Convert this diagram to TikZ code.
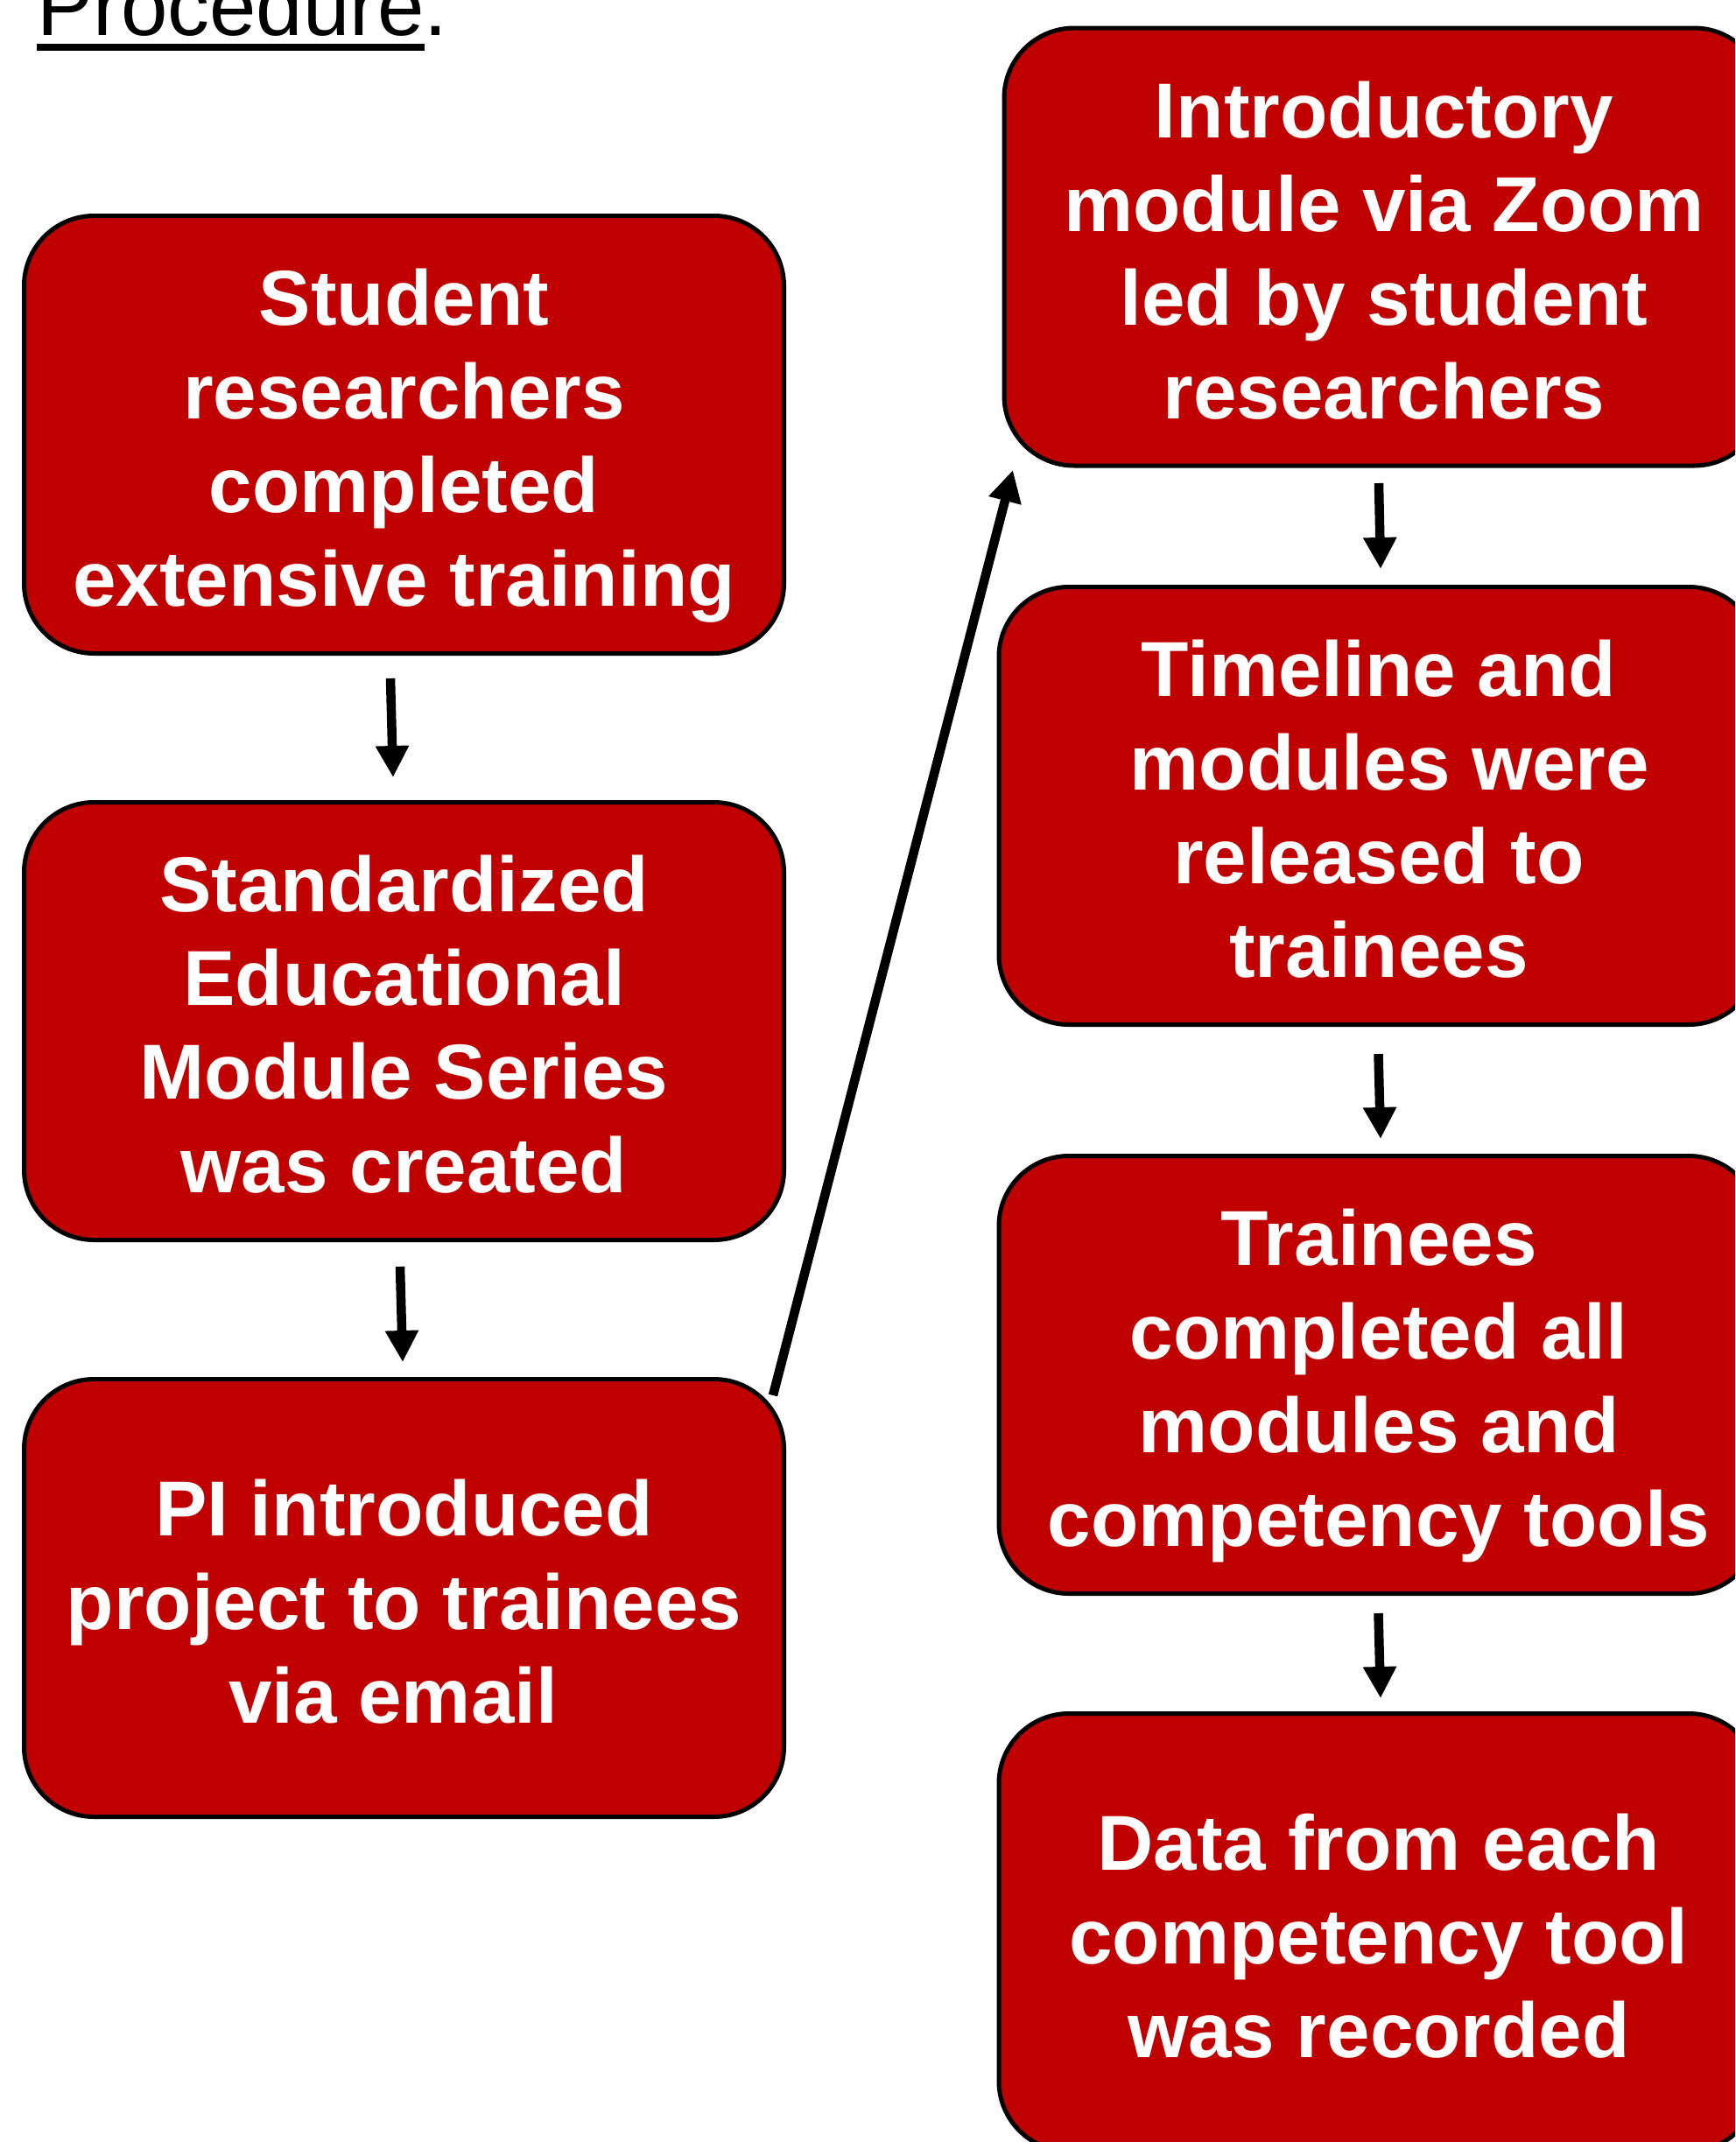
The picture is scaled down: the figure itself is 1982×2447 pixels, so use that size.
\documentclass[tikz,border=0pt]{standalone}
\usepackage{fontspec}
\setmainfont{Liberation Sans}
\usetikzlibrary{arrows.meta,calc}
\definecolor{boxred}{RGB}{192,0,0}
% fixed line box at the top and bottom of each step text, so every
% block is centred the same way whatever its ascenders and descenders
\newcommand\firstln{\rule{0pt}{45pt}}
\newcommand\lastln{\rule[-9.5pt]{0pt}{9.5pt}}
\newcommand\wordgap{\hspace*{12.4pt}}
\begin{document}
\begin{tikzpicture}[x=0.5pt,y=-0.5pt,
  stepbox/.style={draw=black, line width=2.5pt, fill=boxred,
    rounded corners=40pt, minimum width=434pt, minimum height=250pt,
    inner sep=0pt, outer sep=0pt, align=center, text=white,
    font=\bfseries\fontsize{44.5}{53.5}\selectfont},
  flow/.style={line width=5.25pt, -{Triangle[length=18pt,width=18pt]}},
  heading/.style={anchor=base west, inner sep=0pt, outer sep=0pt,
    font=\fontsize{48}{57}\selectfont}]
\useasboundingbox (0,0) rectangle (1982,2447);
\clip (0,0) rectangle (1982,2447);

% heading
\node[heading] (title) at (42,40) {Procedure.};
\fill ($(title.base west)+(0,10)$) rectangle ++(443,8);

% left column
\node[stepbox] (b1) at (461.5,496.5)
  {\firstln Student\\researchers\\completed\\extensive training\lastln};
\node[stepbox] (b2) at (461.5,1166.5)
  {\firstln Standardized\\Educational\\Module Series\\was created\lastln};
\node[stepbox] (b3) at (461.5,1825.5)
  {\firstln PI introduced\\project to trainees\\via email\wordgap\lastln};

% right column
\node[stepbox] (r1) at (1581,282)
  {\firstln Introductory\\module via Zoom\\led by student\\researchers\lastln};
\node[stepbox] (r2) at (1575,920.5)
  {\firstln Timeline and\\\wordgap modules were\\released to\\trainees\lastln};
\node[stepbox] (r3) at (1575,1570.5)
  {\firstln Trainees\\completed all\\modules and\\competency tools\lastln};
\node[stepbox] (r4) at (1575,2207.5)
  {\firstln Data from each\\competency tool\\was recorded\lastln};

% connectors
\draw[flow] ($(b1.south)+(-15.5,28.5)$) -- ($(b2.north)+(-12.5,-28.5)$);
\draw[flow] ($(b2.south)+(-4.5,30.5)$) -- ($(b3.north)+(-1.5,-19.5)$);
\draw[flow] ($(b3.north east)+(-12.5,18.5)$) -- ($(r1.south west)+(10,5)$);
\draw[flow] ($(r1.south)+(-6,20)$) -- ($(r2.north)+(2,-20.5)$);
\draw[flow] ($(r2.south)+(-0.5,33.5)$) -- ($(r3.north)+(2,-19.5)$);
\draw[flow] ($(r3.south)+(-0.5,22.5)$) -- ($(r4.north)+(2,-17.5)$);
\end{tikzpicture}
\end{document}
